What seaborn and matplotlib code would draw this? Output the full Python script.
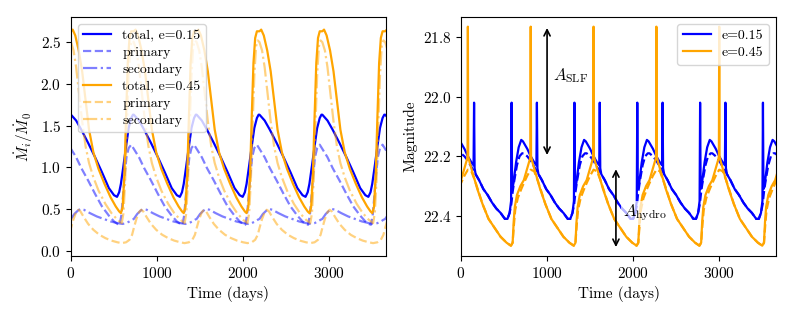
import numpy as np
import matplotlib
matplotlib.use("Agg")
import matplotlib.pyplot as plt
import seaborn as sns

# Orbital period (days) and start of each orbit shown in the window
period = 730
orbit_starts = [-730, 0, 730, 1460, 2190, 2920, 3650]

# ---- left panel: accretion rates over one orbit (phase in days) ----
blue_total_phase = [0, 60, 120, 200, 280, 360, 440, 500, 535, 560, 580, 610, 640, 670, 700, 720]
blue_total_vals = [1.63, 1.56, 1.45, 1.29, 1.12, 0.94, 0.75, 0.665, 0.645, 0.70, 0.80, 1.02, 1.25, 1.47, 1.59, 1.63]

blue_prim_phase = [0, 60, 120, 200, 280, 360, 440, 500, 540, 565, 585, 605, 625, 645, 670, 700]
blue_prim_vals = [1.22, 1.12, 0.99, 0.84, 0.68, 0.53, 0.42, 0.35, 0.32, 0.31, 0.42, 0.66, 0.92, 1.12, 1.23, 1.27]

blue_sec_phase = [0, 40, 80, 110, 150, 220, 300, 380, 460, 540, 600, 640, 680, 710]
blue_sec_vals = [0.38, 0.44, 0.48, 0.50, 0.49, 0.45, 0.41, 0.38, 0.35, 0.33, 0.32, 0.33, 0.35, 0.37]

orange_total_phase = [0, 20, 50, 90, 130, 170, 210, 260, 320, 390, 460, 520, 560, 580, 600, 620, 640, 660, 680, 700]
orange_total_vals = [2.63, 2.65, 2.58, 2.40, 2.15, 1.80, 1.45, 1.18, 0.98, 0.80, 0.64, 0.53, 0.47, 0.45, 0.52, 0.90, 1.60, 2.25, 2.55, 2.63]

orange_prim_phase = [0, 30, 60, 85, 110, 150, 200, 260, 330, 400, 470, 540, 590, 640, 680, 710]
orange_prim_vals = [0.27, 0.38, 0.46, 0.49, 0.47, 0.40, 0.32, 0.25, 0.19, 0.15, 0.12, 0.10, 0.09, 0.10, 0.13, 0.19]

orange_sec_phase = [0, 30, 60, 90, 130, 170, 210, 260, 320, 400, 470, 540, 590, 610, 630, 650, 670, 690, 710]
orange_sec_vals = [2.50, 2.40, 2.20, 1.92, 1.55, 1.25, 1.05, 0.88, 0.72, 0.56, 0.45, 0.37, 0.33, 0.45, 0.85, 1.50, 2.10, 2.45, 2.52]

# ---- right panel: magnitudes over one orbit ----
blue_mag_phase = [0, 40, 80, 120, 146, 152, 158, 170, 210, 260, 310, 360, 410, 460, 510, 540, 565, 582, 588, 594, 610, 640, 670, 700, 720]
blue_mag_vals = [22.155, 22.175, 22.20, 22.22, 22.23, 22.02, 22.24, 22.26, 22.28, 22.31, 22.33, 22.355, 22.375, 22.39, 22.41, 22.41, 22.39, 22.35, 22.02, 22.31, 22.29, 22.22, 22.17, 22.145, 22.15]

blue_hydro_phase = [0, 40, 80, 120, 160, 210, 260, 310, 360, 410, 460, 510, 540, 565, 585, 600, 620, 650, 680, 710]
blue_hydro_vals = [22.19, 22.20, 22.215, 22.235, 22.255, 22.28, 22.31, 22.33, 22.355, 22.375, 22.39, 22.41, 22.41, 22.39, 22.36, 22.32, 22.28, 22.23, 22.20, 22.19]

orange_mag_phase = [0, 40, 70, 76, 80, 84, 100, 140, 190, 250, 320, 390, 460, 530, 580, 600, 612, 625, 650, 690]
orange_mag_vals = [22.28, 22.24, 22.21, 22.20, 21.765, 22.20, 22.22, 22.26, 22.31, 22.36, 22.41, 22.44, 22.47, 22.49, 22.50, 22.49, 22.42, 22.37, 22.33, 22.30]

orange_hydro_phase = [0, 40, 80, 120, 160, 200, 250, 320, 390, 460, 530, 580, 600, 615, 630, 660, 700]
orange_hydro_vals = [22.29, 22.265, 22.245, 22.25, 22.28, 22.315, 22.36, 22.41, 22.44, 22.47, 22.49, 22.50, 22.49, 22.43, 22.38, 22.34, 22.31]


def tile(phase, vals):
    # repeat the one-orbit curve for every orbit in the window
    t = np.concatenate([np.asarray(phase) + s for s in orbit_starts])
    v = np.tile(vals, len(orbit_starts))
    return t, v


plt.rcParams["font.family"] = "serif"
plt.rcParams["font.serif"] = ["cmr10"]
plt.rcParams["mathtext.fontset"] = "cm"
plt.rcParams["axes.formatter.use_mathtext"] = True
plt.rcParams["font.size"] = 11

fig, ax = plt.subplots(1, 2, figsize=(7.93, 3.17), dpi=100)
fig.subplots_adjust(left=0.0895, right=0.9786, top=0.946, bottom=0.192, wspace=0.238)

blue = "#0000ff"
orange = "#ffa500"
lw = 1.6

# left panel
left_curves = [
    (blue_total_phase, blue_total_vals, blue, "-", 1.0, "total, e=0.15"),
    (blue_prim_phase, blue_prim_vals, blue, "--", 0.5, "primary"),
    (blue_sec_phase, blue_sec_vals, blue, "-.", 0.5, "secondary"),
    (orange_total_phase, orange_total_vals, orange, "-", 1.0, "total, e=0.45"),
    (orange_prim_phase, orange_prim_vals, orange, "--", 0.5, "primary"),
    (orange_sec_phase, orange_sec_vals, orange, "-.", 0.5, "secondary"),
]
for ph, vals, col, ls, a, lab in left_curves:
    t, v = tile(ph, vals)
    sns.lineplot(x=t, y=v, ax=ax[0], color=col, linestyle=ls, alpha=a, lw=lw,
                 label=lab, sort=False, estimator=None)

ax[0].set_xlim(0, 3660)
ax[0].set_ylim(-0.066, 2.80)
ax[0].set_xticks([0, 1000, 2000, 3000])
ax[0].set_xlabel("Time (days)")
ax[0].set_ylabel(r"$\dot{M}_i/\dot{M}_0$")
ax[0].legend(loc="upper left", fontsize=10, labelspacing=0.3)

# right panel
right_curves = [
    (blue_mag_phase, blue_mag_vals, blue, "-", "e=0.15"),
    (blue_hydro_phase, blue_hydro_vals, blue, "--", None),
    (orange_mag_phase, orange_mag_vals, orange, "-", "e=0.45"),
    (orange_hydro_phase, orange_hydro_vals, orange, "--", None),
]
for ph, vals, col, ls, lab in right_curves:
    t, v = tile(ph, vals)
    sns.lineplot(x=t, y=v, ax=ax[1], color=col, linestyle=ls, lw=lw,
                 label=lab, sort=False, estimator=None)

ax[1].set_xlim(0, 3660)
ax[1].set_ylim(22.535, 21.733)
ax[1].set_xticks([0, 1000, 2000, 3000])
ax[1].set_yticks([21.8, 22.0, 22.2, 22.4])
ax[1].set_xlabel("Time (days)")
ax[1].set_ylabel("Magnitude")
ax[1].legend(loc="upper right", fontsize=10, labelspacing=0.3)

# amplitude markers
ax[1].annotate("", xy=(1000, 21.76), xytext=(1000, 22.205),
               arrowprops=dict(arrowstyle="<->", color="k", lw=1.2))
ax[1].text(1070, 21.93, r"$A_{\rm SLF}$", fontsize=12, va="center", ha="left")
ax[1].annotate("", xy=(1800, 22.234), xytext=(1800, 22.514),
               arrowprops=dict(arrowstyle="<->", color="k", lw=1.2))
ax[1].text(1880, 22.39, r"$A_{\rm hydro}$", fontsize=12, va="center", ha="left",
           bbox=dict(facecolor="white", alpha=0.7, edgecolor="none", pad=1))

plt.savefig("out.png", dpi=100)
